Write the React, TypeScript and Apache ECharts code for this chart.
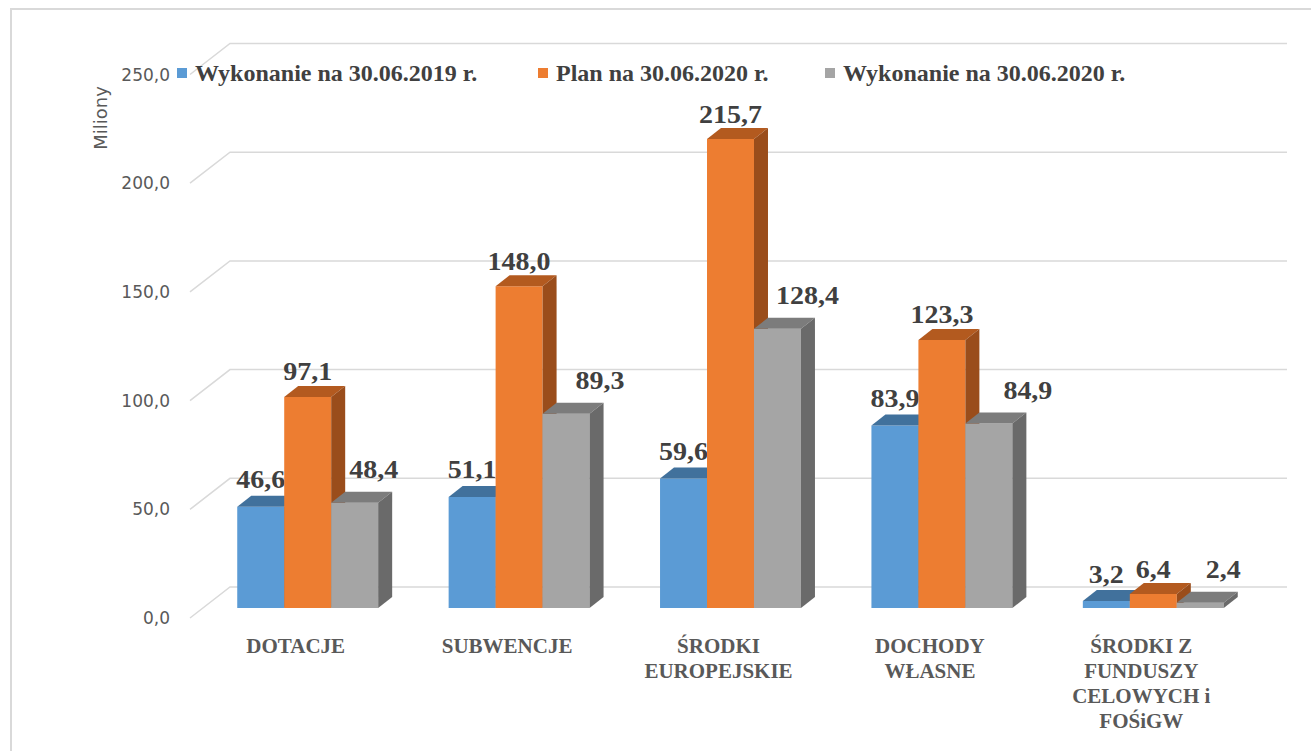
import React, { useEffect, useRef } from "react";
import * as echarts from "echarts";

const categories = [
  "DOTACJE",
  "SUBWENCJE",
  "ŚRODKI\nEUROPEJSKIE",
  "DOCHODY\nWŁASNE",
  "ŚRODKI Z\nFUNDUSZY\nCELOWYCH i\nFOŚiGW",
];
const seriesNames = ["Wykonanie na 30.06.2019 r.", "Plan na 30.06.2020 r.", "Wykonanie na 30.06.2020 r."];
const wykonanie2019 = [46.6, 51.1, 59.6, 83.9, 3.2];
const plan2020 = [97.1, 148.0, 215.7, 123.3, 6.4];
const wykonanie2020 = [48.4, 89.3, 128.4, 84.9, 2.4];
const yTicks = [0, 50, 100, 150, 200, 250];
const yTickLabels = ["0,0", "50,0", "100,0", "150,0", "200,0", "250,0"];

// layout / style constants
const DX = 14; // bar depth x
const DY = 11; // bar depth y
const palettes = [
  { front: "#5B9BD5", top: "#41719C", side: "#3A6591" },
  { front: "#ED7D31", top: "#B35A1F", side: "#9A4D1B" },
  { front: "#A5A5A5", top: "#7C7C7C", side: "#6A6A6A" },
];
const labelDy = [-27, -25, -33];
const labelDxPerSeries = [
  [0, 0, 0, 0, 0],
  [0, 0, 0, 0, 0],
  [19, 34, 30, 39, 23],
];

const fmt = (v: number) => v.toFixed(1).replace(".", ",");

function makeBarRender(si: number) {
  const pal = palettes[si];
  return (params: any, api: any) => {
    const cat = api.value(0);
    const v = api.value(1);
    const top = api.coord([cat, v]);
    const base = api.coord([cat, 0]);
    const catW = api.size([1, 0])[0];
    const groupW = (catW * 2) / 3;
    const bw = groupW / 3;
    const x0 = top[0] - groupW / 2 + si * bw;
    const yt = top[1];
    const yb = base[1];
    return {
      type: "group",
      children: [
        { type: "rect", shape: { x: x0, y: yt, width: bw, height: yb - yt }, style: { fill: pal.front } },
        {
          type: "polygon",
          shape: { points: [[x0, yt], [x0 + bw, yt], [x0 + bw + DX, yt - DY], [x0 + DX, yt - DY]] },
          style: { fill: pal.top },
        },
        {
          type: "polygon",
          shape: { points: [[x0 + bw, yt], [x0 + bw + DX, yt - DY], [x0 + bw + DX, yb - DY], [x0 + bw, yb]] },
          style: { fill: pal.side },
        },
        {
          type: "text",
          x: x0 + bw / 2 + labelDxPerSeries[si][cat],
          y: yt + labelDy[si],
          scaleX: 1.12,
          style: {
            text: fmt(v),
            align: "center",
            verticalAlign: "middle",
            fontFamily: "Liberation Serif",
            fontWeight: "bold",
            fontSize: 25,
            fill: "#404040",
          },
        },
      ],
    };
  };
}

const gridRender = (params: any, api: any) => {
  const v = api.value(1);
  const c = api.coord([0, v]);
  const cs = params.coordSys;
  const y = c[1];
  return {
    type: "polyline",
    shape: {
      points: [
        [cs.x - 12, y + 10],
        [cs.x + 28, y - 21],
        [cs.x + cs.width + 28, y - 21],
      ],
    },
    style: { stroke: "#d9d9d9", lineWidth: 1.5, fill: "none" },
  };
};

export default function App() {
  const ref = useRef<HTMLDivElement>(null);
  useEffect(() => {
    document.body.style.margin = "0";
    const chart = echarts.init(ref.current!, null, { renderer: "svg" });
    const values = [wykonanie2019, plan2020, wykonanie2020];
    const legendLefts = [172, 533, 820];
    chart.setOption({
      animation: false,
      backgroundColor: "#ffffff",
      grid: { left: 202, right: 52, top: 64.5, bottom: 143 },
      legend: seriesNames.map((n, i) => ({
        data: [n],
        left: legendLefts[i],
        top: 56,
        icon: "rect",
        itemWidth: 10,
        itemHeight: 10,
        selectedMode: false,
        textStyle: {
          fontFamily: "Liberation Serif",
          fontWeight: "bold",
          fontSize: 24,
          color: "#404040",
          padding: [0, 0, 0, 3],
        },
      })),
      xAxis: {
        type: "category",
        data: categories,
        axisLine: { show: false },
        axisTick: { show: false },
        axisLabel: {
          interval: 0,
          margin: 25,
          fontFamily: "Liberation Serif",
          fontWeight: "bold",
          fontSize: 21,
          lineHeight: 25,
          color: "#595959",
          padding: [0, 24, 0, 0],
        },
      },
      yAxis: {
        type: "value",
        min: 0,
        max: 250,
        interval: 50,
        splitLine: { show: false },
        axisLine: { show: false },
        axisTick: { show: false },
        axisLabel: {
          margin: 32,
          fontFamily: "DejaVu Sans",
          fontSize: 17,
          lineHeight: 20,
          verticalAlign: "top",
          color: "#595959",
          formatter: (v: number) => yTickLabels[yTicks.indexOf(v)] ?? "",
        },
      },
      graphic: [
        {
          type: "rect",
          shape: { x: 11, y: 9, width: 1330, height: 770 },
          style: { fill: "none", stroke: "#d9d9d9", lineWidth: 2 },
          silent: true,
        },
        {
          type: "text",
          x: 100,
          y: 118,
          rotation: Math.PI / 2,
          style: {
            text: "Miliony",
            align: "center",
            verticalAlign: "middle",
            fontFamily: "DejaVu Sans",
            fontSize: 18,
            fill: "#595959",
          },
        },
      ],
      series: [
        {
          type: "custom",
          name: "grid",
          renderItem: gridRender,
          data: yTicks.map((v) => [0, v]),
          encode: { x: 0, y: 1 },
          clip: false,
          silent: true,
          z: 1,
        },
        ...values.map((arr, si) => ({
          type: "custom",
          name: seriesNames[si],
          renderItem: makeBarRender(si),
          data: arr.map((v, i) => [i, v]),
          encode: { x: 0, y: 1 },
          itemStyle: { color: palettes[si].front },
          clip: false,
          z: 2,
        })),
      ],
    });
    return () => chart.dispose();
  }, []);
  return <div ref={ref} style={{ width: 1311, height: 751 }} />;
}
